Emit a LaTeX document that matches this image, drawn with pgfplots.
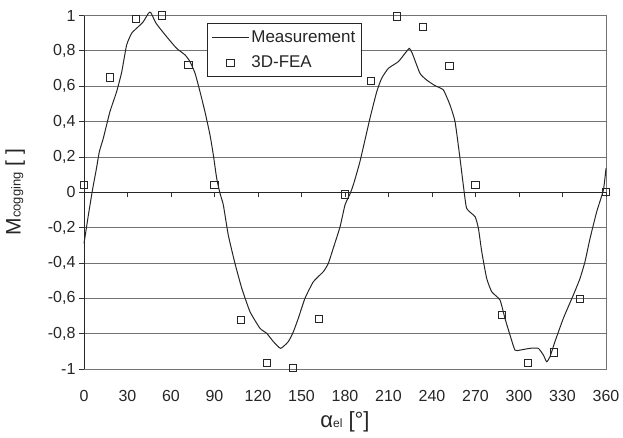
\documentclass[border=0pt]{standalone}
\usepackage{pgfplots}
\pgfplotsset{compat=1.18}
\usepackage{fontspec}
\setmainfont{Liberation Sans}
\begin{document}
\begin{tikzpicture}
\path[use as bounding box] (-84pt,-68pt) rectangle (539pt,369pt);
\begin{axis}[
  scale only axis, width=522pt, height=353.5pt,
  xmin=0, xmax=360, ymin=-1, ymax=1,
  clip=false,
  axis line style={black!55, line width=0.8pt},
  xtick={0,30,...,360},
  xticklabels={0,30,60,90,120,150,180,210,240,270,300,330,360},
  ytick={-1,-0.8,...,1.01},
  yticklabels={-1,{-0,8},{-0,6},{-0,4},{-0,2},0,{0,2},{0,4},{0,6},{0,8},1},
  major x tick style={draw=none},
  x tick label style={yshift=-13pt},
  tick align=outside,
  major tick length=5pt,
  ytick pos=left, xtick pos=bottom,
  major y tick style={black!80, line width=0.8pt},
  ymajorgrids,
  major grid style={black!55, line width=0.8pt},
  tick label style={font=\fontsize{16pt}{19pt}\selectfont, text=black!85},
  /pgf/number format/assume math mode=true,
  xlabel={\fontsize{22pt}{26pt}\selectfont α{\fontsize{12pt}{14pt}\selectfont el} [°]},
  ylabel={\fontsize{21pt}{25pt}\selectfont M{\fontsize{13pt}{15pt}\selectfont cogging} [ ]},
  xlabel style={at={(axis description cs:0.5,-0.15)}, anchor=center, text=black!85},
  ylabel style={at={(axis description cs:-0.132,0.5)}, rotate=0, anchor=center, text=black!85},
  legend style={at={(axis description cs:0.2356,0.978)}, anchor=north west,
    draw=black!85, line width=0.8pt, fill=white, font=\fontsize{17pt}{20pt}\selectfont,
    text=black!85, row sep=8pt, inner xsep=4pt, inner ysep=5pt},
  legend cell align=left,
  legend image code/.code={\draw[mark repeat=2,mark phase=2,#1] plot coordinates {(0pt,0pt) (18.5pt,0pt) (37pt,0pt)};},
]
\addplot[black!85, line width=1pt, smooth, tension=0.3] coordinates {
(0,-0.29) (1.5,-0.21) (3,-0.13) (6,0.02) (8.5,0.13) (10.6,0.23) (13.3,0.305)
(17.9,0.456) (22.5,0.569) (26,0.68) (29.4,0.833) (32.9,0.90) (37.5,0.937)
(40.9,0.965) (44.4,1.012) (46,1.018) (49.7,0.956) (57,0.88) (63.9,0.814)
(69.7,0.777) (73.1,0.739) (76.6,0.673) (80,0.569) (83.4,0.456) (86.9,0.324)
(89.2,0.211) (91.5,0.079) (93.8,-0.006) (96.1,-0.072) (99.5,-0.242)
(104.1,-0.402) (108.8,-0.543) (114.5,-0.676) (121.4,-0.770) (126,-0.798)
(130.6,-0.845) (135.6,-0.883) (140.9,-0.845) (144.4,-0.789) (147.8,-0.713)
(152.4,-0.600) (158.2,-0.506) (165.1,-0.449) (168.5,-0.402) (171.9,-0.317)
(176.6,-0.195) (180,-0.072) (183.4,-0.01) (185.7,0.041) (190.3,0.173)
(197.2,0.418) (201.9,0.569) (205.3,0.645) (209.9,0.701) (216.8,0.739)
(221.4,0.786) (224.4,0.814) (226.4,0.786) (231.7,0.673) (236.3,0.635)
(242.1,0.603) (247.8,0.579) (252.4,0.494) (255.9,0.399) (259.3,0.192)
(261.6,0.04) (263.9,-0.091) (269.7,-0.138) (272,-0.204) (274.3,-0.336)
(277.7,-0.487) (281.2,-0.563) (286.9,-0.610) (290.3,-0.713) (293.8,-0.808)
(297.2,-0.893) (300.7,-0.893) (307.6,-0.883) (313.3,-0.883) (316.8,-0.921)
(319.1,-0.959) (321.4,-0.930) (324.8,-0.845) (330.6,-0.713) (337.5,-0.581)
(342.1,-0.487) (345.5,-0.393) (349,-0.261) (353.6,-0.110) (358.2,0.013)
(360,0.135)
};
\addlegendentry{Measurement}
\addplot[only marks, mark=square, mark size=3.6pt, mark options={draw=black!85, line width=0.9pt, fill=none}] coordinates {
(0,0.04) (18,0.65) (36,0.98) (54,1.0) (72,0.72) (90,0.04) (108,-0.723)
(126,-0.966) (144,-0.995) (162,-0.717) (180,-0.012) (198,0.63) (216,0.995)
(234,0.935) (252,0.714) (270,0.04) (288,-0.693) (306,-0.966) (324,-0.906)
(342,-0.602) (360,0.003)
};
\addlegendentry{3D-FEA}
\end{axis}
\begin{axis}[
  scale only axis, width=522pt, height=353.5pt,
  xmin=0, xmax=360, ymin=-1, ymax=1,
  axis x line=middle, axis y line=left,
  axis line style={black!85, line width=0.8pt, -},
  xtick={30,60,...,360}, xticklabels={},
  ytick=\empty,
  tick align=outside, major tick length=5pt,
  major x tick style={black!80, line width=0.8pt},
]
\end{axis}
\end{tikzpicture}
\end{document}
